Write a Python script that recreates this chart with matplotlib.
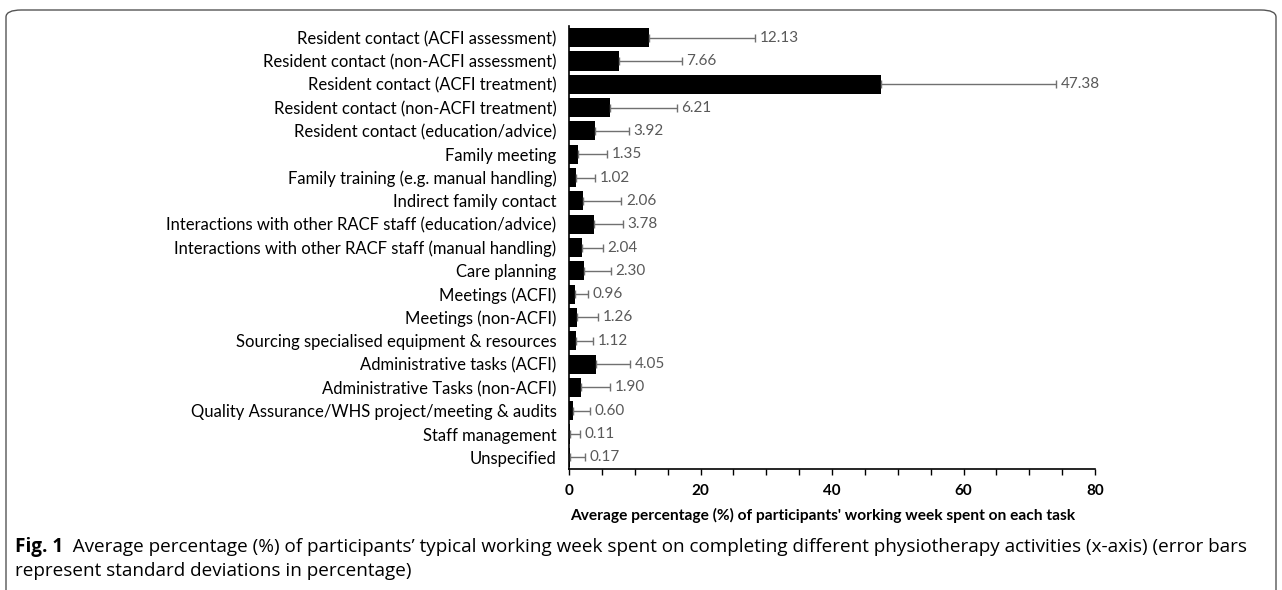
import matplotlib
matplotlib.use("Agg")
import matplotlib.pyplot as plt
from matplotlib.patches import FancyBboxPatch
import numpy as np

categories = [
    "Resident contact (ACFI assessment)",
    "Resident contact (non-ACFI assessment)",
    "Resident contact (ACFI treatment)",
    "Resident contact (non-ACFI treatment)",
    "Resident contact (education/advice)",
    "Family meeting",
    "Family training (e.g. manual handling)",
    "Indirect family contact",
    "Interactions with other RACF staff (education/advice)",
    "Interactions with other RACF staff (manual handling)",
    "Care planning",
    "Meetings (ACFI)",
    "Meetings (non-ACFI)",
    "Sourcing specialised equipment & resources",
    "Administrative tasks (ACFI)",
    "Administrative Tasks (non-ACFI)",
    "Quality Assurance/WHS project/meeting & audits",
    "Staff management",
    "Unspecified",
]
means = [12.13, 7.66, 47.38, 6.21, 3.92, 1.35, 1.02, 2.06, 3.78, 2.04,
         2.30, 0.96, 1.26, 1.12, 4.05, 1.90, 0.60, 0.11, 0.17]
sds = [16.2, 9.5, 26.7, 10.2, 5.15, 4.4, 2.9, 5.9, 4.4, 3.1,
       4.1, 1.9, 3.15, 2.5, 5.3, 4.4, 2.6, 1.5, 2.2]
xticks_major = [0, 20, 40, 60, 80]

font_main = "Lato"

fig = plt.figure(figsize=(12.82, 5.90), dpi=100)

# rounded border
border = FancyBboxPatch((6 / 1282, -0.1), 1270 / 1282, 1.1 - 10 / 590,
                        boxstyle="round,pad=0,rounding_size=0.012",
                        transform=fig.transFigure, facecolor="none",
                        edgecolor="#555555", linewidth=1.0, zorder=0)
fig.patches.append(border)

ax = fig.add_axes([569 / 1282, 1 - 469 / 590, 526 / 1282, (469 - 26) / 590])
y = np.arange(len(categories))
ax.barh(y, means, height=0.82, color="black", zorder=2)
ax.errorbar(means, y, xerr=[np.zeros(len(sds)), sds], fmt="none",
            ecolor="#707070", elinewidth=1.0, capsize=3, capthick=1.0, zorder=3)
for yi, m, s in zip(y, means, sds):
    ax.text(m + s + 0.7, yi, f"{m:.2f}", va="center", ha="left",
            fontsize=11, color="#595959", family=font_main)

ax.set_ylim(len(categories) - 0.5, -0.5)
ax.set_xlim(0, 80)
ax.set_yticks(y)
ax.set_yticklabels(categories, fontsize=12, family=font_main)
ax.tick_params(axis="y", length=0, pad=9)
ax.set_xticks(np.arange(0, 81, 5))
ax.set_xticklabels([str(v) if v in xticks_major else "" for v in range(0, 81, 5)],
                   fontsize=11, fontweight="bold", family=font_main)
ax.tick_params(axis="x", length=4, width=1, direction="out", pad=7)
ax.set_xlabel("Average percentage (%) of participants' working week spent on each task",
              fontsize=11.2, fontweight="bold", family=font_main)
ax.xaxis.set_label_coords(0.483, -0.089)
for side in ["top", "right"]:
    ax.spines[side].set_visible(False)
ax.spines["left"].set_linewidth(1.2)
ax.spines["bottom"].set_linewidth(1.2)

cap_font = "Open Sans"
t1 = fig.text(15 / 1282, 1 - 547 / 590, "Fig. 1", fontsize=13.6, fontweight="bold",
              family=cap_font, va="center", ha="left")
ax.annotate("  Average percentage (%) of participants’ typical working week spent on completing different physiotherapy activities (x-axis) (error bars",
            xy=(1, 0.5), xycoords=t1, va="center", ha="left",
            fontsize=13.6, family=cap_font, annotation_clip=False)
fig.text(15 / 1282, 1 - 571 / 590, "represent standard deviations in percentage)",
         fontsize=13.6, family=cap_font, va="center", ha="left")

fig.savefig("out.png", dpi=100)
